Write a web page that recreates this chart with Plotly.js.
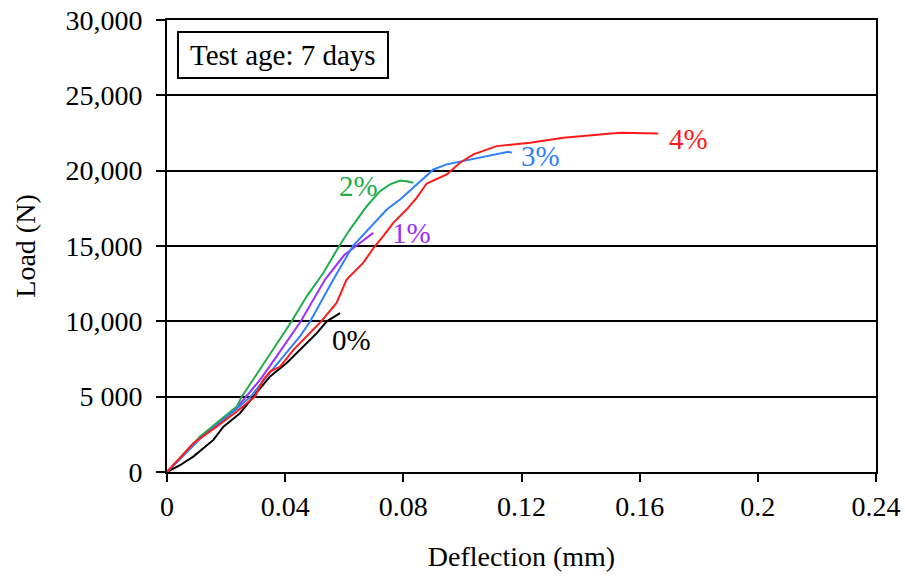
<!DOCTYPE html>
<html><head><meta charset="utf-8">
<script src="https://cdn.plot.ly/plotly-3.0.1.min.js"></script>
<style>html,body{margin:0;padding:0;background:#fff}</style>
</head><body>
<div id="chart" style="width:905px;height:576px"></div>
<script>
// Deflection (mm) / Load (N) for each fibre content
const x0 = [0, 0.0044, 0.0089, 0.0157, 0.0191, 0.0247, 0.0292, 0.0349, 0.0405, 0.0461, 0.0507, 0.0541, 0.0586];
const y0 = [0, 450, 1020, 2130, 3010, 3900, 5010, 6340, 7230, 8330, 9220, 10000, 10550];
const x1 = [0, 0.0112, 0.0236, 0.0267, 0.0315, 0.0371, 0.0453, 0.0535, 0.0600, 0.0640, 0.0698];
const y1 = [0, 2250, 4250, 5000, 6120, 7670, 10000, 12770, 14400, 15000, 15870];
const x2 = [0, 0.0112, 0.0236, 0.0253, 0.0326, 0.0371, 0.0422, 0.0473, 0.0529, 0.0583, 0.0619, 0.0676, 0.0721, 0.0755, 0.0789, 0.0811, 0.0834];
const y2 = [0, 2350, 4340, 5000, 7150, 8500, 10000, 11660, 13210, 15000, 16090, 17640, 18640, 19090, 19350, 19300, 19200];
const x3 = [0, 0.0112, 0.0236, 0.0283, 0.0338, 0.0394, 0.0450, 0.0485, 0.0563, 0.0629, 0.0681, 0.0744, 0.0789, 0.0845, 0.0902, 0.0947, 0.1003, 0.1082, 0.1155, 0.1167];
const y3 = [0, 2200, 4200, 5000, 6340, 7670, 9000, 10000, 12770, 15000, 16090, 17420, 18090, 19090, 20080, 20420, 20640, 20970, 21260, 21190];
const x4 = [0, 0.0089, 0.0168, 0.0236, 0.0298, 0.0326, 0.0349, 0.0383, 0.0428, 0.0473, 0.0522, 0.0574, 0.0608, 0.0664, 0.0704, 0.0732, 0.0766, 0.0811, 0.0845, 0.0879, 0.0947, 0.0992, 0.1037, 0.1116, 0.1229, 0.1342, 0.1454, 0.1533, 0.1663];
const y4 = [0, 1910, 3010, 4010, 5010, 6120, 6670, 7000, 8110, 9000, 10000, 11220, 12770, 13880, 15000, 15650, 16540, 17420, 18200, 19150, 19750, 20530, 21080, 21630, 21860, 22190, 22410, 22520, 22460];
const seriesNames = ['0%', '1%', '2%', '3%', '4%'];
const colors = ['#000000', '#9b30ff', '#1fae4b', '#2f80ff', '#ff1a1a'];
const xs = [x0, x1, x2, x3, x4];
const ys = [y0, y1, y2, y3, y4];
const yTickVals = [0, 5000, 10000, 15000, 20000, 25000, 30000];
const yTickText = ['0', '5 000', '10,000', '15,000', '20,000', '25,000', '30,000'];
const xTickVals = [0, 0.04, 0.08, 0.12, 0.16, 0.2, 0.24];
const xTickText = ['0', '0.04', '0.08', '0.12', '0.16', '0.2', '0.24'];
const labelX = [0.0623, 0.0829, 0.0647, 0.1263, 0.1764];
const labelY = [8780, 15830, 18950, 20950, 22080];

const F = 'Liberation Serif';
const traces = xs.map((x, i) => ({
  x: x, y: ys[i], type: 'scatter', mode: 'lines', name: seriesNames[i],
  line: {color: colors[i], width: 2}, showlegend: false, hoverinfo: 'skip'
}));
const annotations = seriesNames.map((n, i) => ({
  x: labelX[i], y: labelY[i], xref: 'x', yref: 'y', text: n,
  showarrow: false, font: {family: F, size: 29, color: colors[i]}
}));
annotations.push({
  x: 0.1636, y: 0.9226, xref: 'paper', yref: 'paper', xanchor: 'center', yanchor: 'middle',
  text: 'Test age: 7 days', showarrow: false,
  font: {family: F, size: 29, color: '#000'}
});
const layout = {
  width: 905, height: 576,
  margin: {l: 167, r: 29, t: 20, b: 104},
  paper_bgcolor: '#fff', plot_bgcolor: '#fff',
  font: {family: F, size: 28, color: '#000'},
  xaxis: {
    range: [0, 0.24], tickvals: xTickVals, ticktext: xTickText,
    showgrid: false, zeroline: false, showline: true, mirror: true,
    linecolor: '#000', linewidth: 2, ticks: 'outside', ticklen: 8, tickwidth: 2, tickcolor: '#000',
    tickfont: {family: F, size: 28},
    title: {text: 'Deflection (mm)', font: {family: F, size: 28}, standoff: 26}
  },
  yaxis: {
    range: [0, 30000], tickvals: yTickVals, ticktext: yTickText,
    showgrid: true, gridcolor: '#000', gridwidth: 2, zeroline: false, showline: true, mirror: true,
    linecolor: '#000', linewidth: 2, ticks: 'outside', ticklen: 9, tickwidth: 2, tickcolor: '#000',
    ticklabelstandoff: 8,
    tickfont: {family: F, size: 28},
    title: {text: 'Load (N)', font: {family: F, size: 28}, standoff: 22}
  },
  shapes: [{
    type: 'rect', xref: 'paper', yref: 'paper',
    x0: 0.0155, x1: 0.3117, y0: 0.8717, y1: 0.9735,
    line: {color: '#000', width: 2}, fillcolor: '#fff', layer: 'above'
  }],
  annotations: annotations
};
Plotly.newPlot('chart', traces, layout, {displayModeBar: false, staticPlot: true});
</script>
</body></html>
